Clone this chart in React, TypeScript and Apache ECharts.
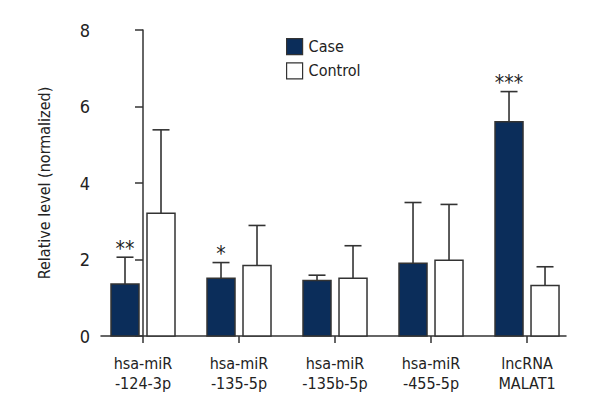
import React, { useEffect, useRef } from "react";
import * as echarts from "echarts";

const categories = ["hsa-miR\n-124-3p", "hsa-miR\n-135-5p", "hsa-miR\n-135b-5p", "hsa-miR\n-455-5p", "lncRNA\nMALAT1"];
const caseMean = [1.36, 1.51, 1.45, 1.9, 5.6];
const caseErr = [2.06, 1.92, 1.59, 3.49, 6.39];
const controlMean = [3.21, 1.84, 1.51, 1.98, 1.32];
const controlErr = [5.39, 2.89, 2.36, 3.44, 1.81];
const significance = ["**", "*", "", "", "***"];
const yTicks = [0, 2, 4, 6, 8];

const FONT = '"DejaVu Sans Condensed", "Liberation Sans Narrow", "Open Sans", sans-serif';
const NAVY = "#0b2d5a";
const EDGE = "#333333";

function makeRender(means: number[], errs: number[], offset: number, fill: string, marks: string[] | null) {
  return (params: any, api: any) => {
    const i = params.dataIndex;
    const top = api.coord([i, means[i]]);
    const base = api.coord([i, 0]);
    const eTop = api.coord([i, errs[i]]);
    const cx = top[0] + offset;
    const bw = 28;
    const cap = 17;
    const children: any[] = [
      {
        type: "line",
        shape: { x1: cx, y1: top[1], x2: cx, y2: eTop[1] },
        style: { stroke: EDGE, lineWidth: 1.6 },
      },
      {
        type: "line",
        shape: { x1: cx - cap / 2, y1: eTop[1], x2: cx + cap / 2, y2: eTop[1] },
        style: { stroke: EDGE, lineWidth: 1.6 },
      },
      {
        type: "rect",
        shape: { x: cx - bw / 2, y: top[1], width: bw, height: base[1] - top[1] },
        style: { fill, stroke: EDGE, lineWidth: 1.5 },
      },
    ];
    if (marks && marks[i]) {
      children.push({
        type: "text",
        x: cx,
        y: eTop[1] + 2,
        style: {
          text: marks[i],
          fill: "#222",
          font: `21px ${FONT}`,
          align: "center",
          verticalAlign: "bottom",
        },
      });
    }
    return { type: "group", children };
  };
}

export default function App() {
  const ref = useRef<HTMLDivElement>(null);
  useEffect(() => {
    if (!ref.current) return;
    const chart = echarts.init(ref.current, null, { renderer: "svg" });
    const idx = categories.map((_, i) => i);
    chart.setOption({
      animation: false,
      backgroundColor: "#ffffff",
      grid: { left: 101, right: 34, top: 30, bottom: 84 },
      legend: {
        orient: "vertical",
        left: 281,
        top: 33,
        itemWidth: 16,
        itemHeight: 16,
        itemGap: 7,
        icon: "rect",
        textStyle: { fontFamily: FONT, fontSize: 16, color: "#222", padding: [0, 0, 0, 1] },
        data: [
          { name: "Case", itemStyle: { color: NAVY, borderColor: EDGE, borderWidth: 1.2 } },
          { name: "Control", itemStyle: { color: "#ffffff", borderColor: EDGE, borderWidth: 1.2 } },
        ],
      },
      xAxis: {
        type: "value",
        min: -0.4375,
        max: 4.406,
        splitLine: { show: false },
        axisLine: { show: true, lineStyle: { color: EDGE, width: 1.5 } },
        axisTick: { show: true, customValues: idx, length: 7, lineStyle: { color: EDGE, width: 1.5 } },
        axisLabel: {
          customValues: idx,
          formatter: (v: number) => categories[Math.round(v)] ?? "",
          fontFamily: FONT,
          fontSize: 16,
          color: "#222",
          lineHeight: 20,
          margin: 17,
        },
      },
      yAxis: {
        type: "value",
        min: 0,
        max: 8,
        interval: 2,
        name: "Relative level (normalized)",
        nameLocation: "middle",
        nameGap: 49,
        nameTextStyle: { fontFamily: FONT, fontSize: 16, color: "#222" },
        splitLine: { show: false },
        axisLine: { show: true, lineStyle: { color: EDGE, width: 1.5 } },
        axisTick: { show: true, length: 8, lineStyle: { color: EDGE, width: 1.5 } },
        axisLabel: {
          fontFamily: FONT,
          fontSize: 18,
          color: "#222",
          margin: 11,
          formatter: (v: number) => (yTicks.includes(v) ? String(v) : ""),
        },
      },
      series: [
        {
          name: "Case",
          type: "custom",
          itemStyle: { color: NAVY },
          data: caseMean.map((v, i) => [i, v]),
          renderItem: makeRender(caseMean, caseErr, -18, NAVY, significance),
          encode: { x: 0, y: 1 },
        },
        {
          name: "Control",
          type: "custom",
          itemStyle: { color: "#ffffff" },
          data: controlMean.map((v, i) => [i, v]),
          renderItem: makeRender(controlMean, controlErr, 18, "#ffffff", null),
          encode: { x: 0, y: 1 },
        },
      ],
    });
    return () => chart.dispose();
  }, []);
  return <div ref={ref} style={{ width: 600, height: 420, position: "absolute", left: 0, top: 0 }} />;
}
